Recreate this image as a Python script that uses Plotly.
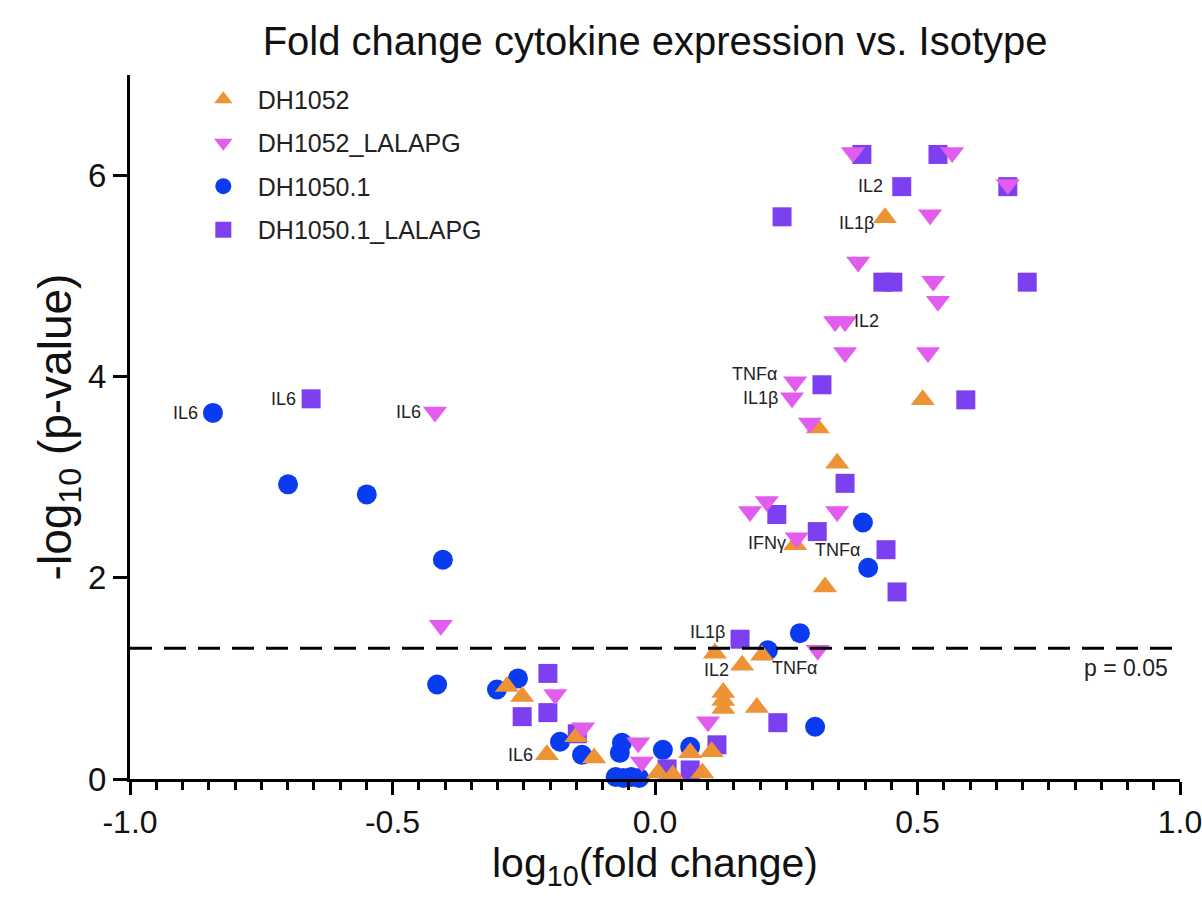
import plotly.graph_objects as go

# ---------------- data ----------------
dh1052_x = [-0.282, -0.253, -0.150, -0.116, -0.206, 0.006, 0.034, 0.067, 0.090, 0.108,
            0.130, 0.130, 0.130, 0.194, 0.114, 0.166, 0.204, 0.267, 0.310, 0.347,
            0.324, 0.510, 0.438]
dh1052_y = [0.92, 0.82, 0.42, 0.21, 0.24, 0.06, 0.04, 0.26, 0.06, 0.27,
            0.86, 0.78, 0.70, 0.71, 1.25, 1.13, 1.23, 2.33, 3.49, 3.14,
            1.91, 3.77, 5.58]

dh1052_lalapg_x = [-0.419, -0.408, -0.190, -0.137, -0.032, -0.025, 0.101, 0.310, 0.181, 0.213,
                   0.347, 0.270, 0.295, 0.267, 0.261, 0.362, 0.520, 0.343, 0.362, 0.387,
                   0.530, 0.539, 0.524, 0.377, 0.566, 0.672]
dh1052_lalapg_y = [3.65, 1.53, 0.84, 0.51, 0.36, 0.17, 0.57, 1.28, 2.66, 2.76,
                   2.66, 2.40, 3.54, 3.95, 3.79, 4.24, 4.24, 4.55, 4.55, 5.14,
                   4.95, 4.75, 5.61, 6.23, 6.23, 5.91]

dh1050_x = [-0.842, -0.699, -0.549, -0.404, -0.415, -0.301, -0.261, -0.181, -0.139, -0.063,
            -0.067, -0.075, -0.060, -0.045, -0.030, 0.015, 0.067, 0.215, 0.276, 0.305,
            0.396, 0.406]
dh1050_y = [3.64, 2.93, 2.83, 2.18, 0.94, 0.89, 1.00, 0.37, 0.24, 0.36,
            0.26, 0.02, 0.01, 0.02, 0.01, 0.29, 0.32, 1.28, 1.45, 0.52,
            2.55, 2.10]

dh1050_lalapg_x = [-0.655, -0.253, -0.204, -0.204, -0.148, 0.067, 0.023, 0.118, 0.162, 0.234,
                   0.232, 0.309, 0.362, 0.440, 0.461, 0.318, 0.592, 0.434, 0.453, 0.709,
                   0.242, 0.470, 0.672, 0.394, 0.539]
dh1050_lalapg_y = [3.78, 0.62, 1.05, 0.66, 0.45, 0.09, 0.10, 0.34, 1.39, 0.56,
                   2.63, 2.46, 2.94, 2.28, 1.86, 3.92, 3.77, 4.94, 4.94, 4.94,
                   5.59, 5.89, 5.89, 6.21, 6.21]

series_names = ["DH1052", "DH1052_LALAPG", "DH1050.1", "DH1050.1_LALAPG"]
series_x = [dh1052_x, dh1052_lalapg_x, dh1050_x, dh1050_lalapg_x]
series_y = [dh1052_y, dh1052_lalapg_y, dh1050_y, dh1050_lalapg_y]

x_tick_vals = [-1, -0.5, 0, 0.5, 1]
x_tick_text = ["-1.0", "-0.5", "0.0", "0.5", "1.0"]
y_tick_vals = [0, 2, 4, 6]

# labelled points: (series index, point index, cytokine)
label_points = [
    (2, 0, "IL6"), (3, 0, "IL6"), (1, 0, "IL6"), (0, 4, "IL6"),
    (3, 21, "IL2"), (0, 22, "IL1β"), (1, 18, "IL2"),
    (1, 13, "TNFα"), (1, 14, "IL1β"), (0, 17, "IFNγ"), (3, 13, "TNFα"),
    (0, 14, "IL1β"), (0, 15, "IL2"), (0, 16, "TNFα"),
]
# text placement for each label: (xanchor, xshift px, yshift px)
label_style = [
    ("right", -13, 0), ("right", -13, 0), ("right", -12, 0), ("right", -12, 0),
    ("right", -17, 1), ("right", -9, -5), ("left", 7, 0),
    ("right", -16, 8), ("right", -12, 0), ("right", -7, 2), ("right", -24, 0),
    ("center", -7, 21), ("right", -11, -5), ("left", 8, -13),
]

p_threshold = 1.301  # -log10(0.05)

# ---------------- styles ----------------
colors = ["#EE9236", "#E25CEE", "#0A3BF0", "#7D40F0"]
symbols = ["triangle-up", "triangle-down", "circle", "square"]
sizes = [21, 21, 20, 19]
FONT = "Liberation Sans, Arial, sans-serif"

fig = go.Figure()
draw_order = [2, 3, 0, 1]
for i in range(4):
    fig.add_trace(go.Scatter(
        x=series_x[i], y=series_y[i], mode="markers", name=series_names[i],
        legendgroup=series_names[i], legendrank=i + 1,
        marker=dict(symbol=symbols[i], color=colors[i], size=sizes[i], line=dict(width=0)),
        cliponaxis=False,
    ))
fig.data = tuple(fig.data[j] for j in draw_order)

for (si, pi, txt), (xa, xs, ys) in zip(label_points, label_style):
    fig.add_annotation(x=series_x[si][pi], y=series_y[si][pi], text=txt, showarrow=False,
                       xanchor=xa, yanchor="middle", xshift=xs, yshift=ys,
                       font=dict(family=FONT, size=18, color="#222222"))

fig.add_shape(type="line", xref="paper", x0=0, x1=1, yref="y", y0=p_threshold, y1=p_threshold,
              line=dict(color="black", width=3, dash="22px,12px"))
fig.add_annotation(xref="paper", x=0.9905, y=p_threshold, yshift=-20, text="p = 0.05",
                   showarrow=False, xanchor="right", yanchor="middle",
                   font=dict(family=FONT, size=23, color="#222222"))

fig.update_layout(
    width=1202, height=917, autosize=False,
    margin=dict(l=130, r=22, t=75, b=138, autoexpand=False),
    paper_bgcolor="white", plot_bgcolor="white",
    title=dict(text="Fold change cytokine expression vs. Isotype", x=0.545, xanchor="center",
               y=0.955, yanchor="middle", font=dict(family=FONT, size=40, color="#111111")),
    font=dict(family=FONT, color="#111111"),
    legend=dict(x=0.056, y=0.998, xanchor="left", yanchor="top", bgcolor="rgba(0,0,0,0)",
                font=dict(family=FONT, size=25, color="#222222"), tracegroupgap=8,
                itemsizing="trace", itemwidth=59),
    showlegend=True,
)
fig.update_xaxes(
    range=[-1, 1], tickvals=x_tick_vals, ticktext=x_tick_text,
    showline=True, linecolor="black", linewidth=3, mirror=False,
    ticks="outside", ticklen=13, tickwidth=3, tickcolor="black",
    minor=dict(dtick=0.05, tick0=0, ticks="outside", ticklen=8, tickwidth=2.5, tickcolor="black"),
    showgrid=False, zeroline=False, ticklabeloverflow="allow", automargin=False,
    tickfont=dict(family=FONT, size=32, color="#111111"),
    title=dict(text="log<sub>10</sub>(fold change)", font=dict(family=FONT, size=41, color="#111111"),
               standoff=8),
)
fig.update_yaxes(
    range=[0, 7], tickvals=y_tick_vals,
    showline=True, linecolor="black", linewidth=3,
    ticks="outside", ticklen=14, tickwidth=3, tickcolor="black",
    showgrid=False, zeroline=False, ticklabeloverflow="allow", automargin=False,
    tickfont=dict(family=FONT, size=33, color="#111111"),
    title=dict(text="-log<sub>10</sub> (p-value)", font=dict(family=FONT, size=46, color="#111111"),
               standoff=0),
)

post = ("document.documentElement.style.overflow='hidden';"
        "document.body.style.overflow='hidden';document.body.style.margin='0';")
fig.write_html("out.html", post_script=post)
